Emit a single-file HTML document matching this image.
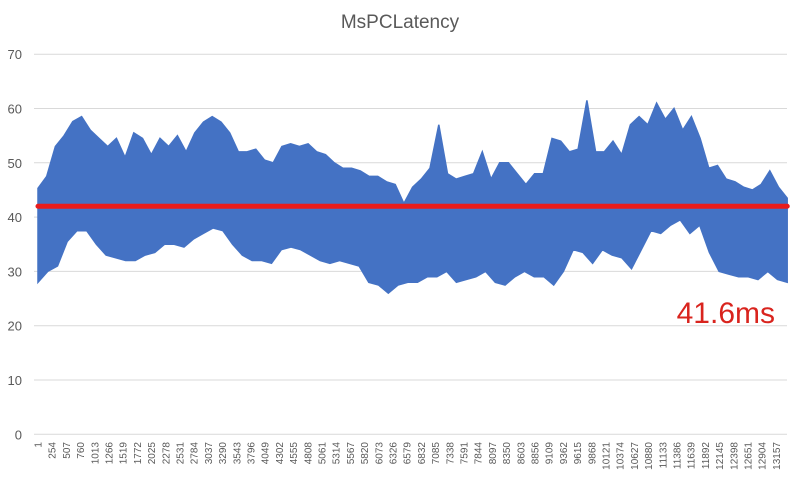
<!DOCTYPE html>
<html><head><meta charset="utf-8"><style>
body{margin:0;background:#fff;}
svg{display:block;font-family:"Liberation Sans",sans-serif;}
</style></head><body>
<svg id="chart" width="800" height="478" viewBox="0 0 800 478">
<text x="400" y="28" text-anchor="middle" font-size="19" fill="#595959">MsPCLatency</text>
<g id="grid"></g><g id="yticks"></g><g id="xticks"></g>
<path id="band" fill="#4472c4" stroke="#4472c4" stroke-width="1.5" stroke-linejoin="miter"></path>
<line id="avg" stroke="#e81c1c" stroke-width="5" stroke-linecap="round"></line>
<text x="775" y="323" text-anchor="end" font-size="30" fill="#d9241e">41.6ms</text>
</svg>
<script>
const yTicks=[0,10,20,30,40,50,60,70];
const totalSamples=13350;
const xLabelStart=1, xLabelStep=253, xLabelCount=53;
const upper=[45.3,47.5,53,55,57.6,58.5,56,54.5,53,54.5,51,55.5,54.5,51.5,54.5,53,55,52,55.5,57.5,58.5,57.5,55.5,52,52,52.5,50.5,50,53,53.5,53,53.5,52,51.5,50,49,49,48.5,47.5,47.5,46.5,46,42.5,45.5,47,
49,57,48,47,47.5,48,52,47,50,50,48,46,48,48,54.5,54,52,52.5,61.5,52,52,54,51.5,57,58.5,57,61,58,60,56,58.5,54.5,49,49.5,47,46.5,45.5,45,46,48.5,45.5,43.5];
const lower=[28,30,31,35.5,37.5,37.5,35,33,32.5,32,32,33,33.5,35,35,34.5,36,37,38,37.5,35,33,32,32,31.5,34,34.5,34,33,32,31.5,32,31.5,31,28,27.5,26,27.5,28,28,29,
29,30,28,28.5,29,30,28,27.5,29,30,29,29,27.5,30,34,33.5,31.5,34,33,32.5,30.5,34,37.5,37,38.5,39.5,37,38.5,33.5,30,29.5,29,29,28.5,30,28.5,28];
const average=42;

const svg=document.getElementById('chart');
const NS='http://www.w3.org/2000/svg';
const x0=36,x1=787,y0=434.3,yPer=5.43;
const xs=i=>38+(i-1)*(14.2/253);
const ys=v=>y0-v*yPer;
function mk(tag,attrs,parent){const e=document.createElementNS(NS,tag);for(const k in attrs)e.setAttribute(k,attrs[k]);parent.appendChild(e);return e;}
const grid=document.getElementById('grid'),yt=document.getElementById('yticks'),xt=document.getElementById('xticks');
yTicks.forEach(v=>{
  const l=mk('line',{x1:x0-2,x2:x1,y1:ys(v),y2:ys(v),stroke:'#d9d9d9','stroke-width':1},grid);
  
  
  const t=mk('text',{x:22,y:ys(v)+5,'text-anchor':'end','font-size':13,fill:'#595959'},yt);
  t.textContent=v;
  
  
});
for(let k=0;k<xLabelCount;k++){
  const val=xLabelStart+k*xLabelStep;
  const x=xs(val)+3.5;
  const t=mk('text',{x:0,y:0,'text-anchor':'end','font-size':10,fill:'#595959',transform:`translate(${x},442) rotate(-90)`},xt);
  t.textContent=val;
  
  
}
let d='';
upper.forEach((v,i)=>{const s=1+i*(totalSamples-1)/(upper.length-1);d+=(i?'L':'M')+xs(s).toFixed(1)+' '+ys(v).toFixed(1);});
for(let i=lower.length-1;i>=0;i--){const s=1+i*(totalSamples-1)/(lower.length-1);d+='L'+xs(s).toFixed(1)+' '+ys(lower[i]).toFixed(1);}
document.getElementById('band').setAttribute('d',d+'Z');
const a=document.getElementById('avg');
a.setAttribute('x1',xs(1));a.setAttribute('x2',xs(totalSamples));
a.setAttribute('y1',ys(average));a.setAttribute('y2',ys(average));
</script>
</body></html>
